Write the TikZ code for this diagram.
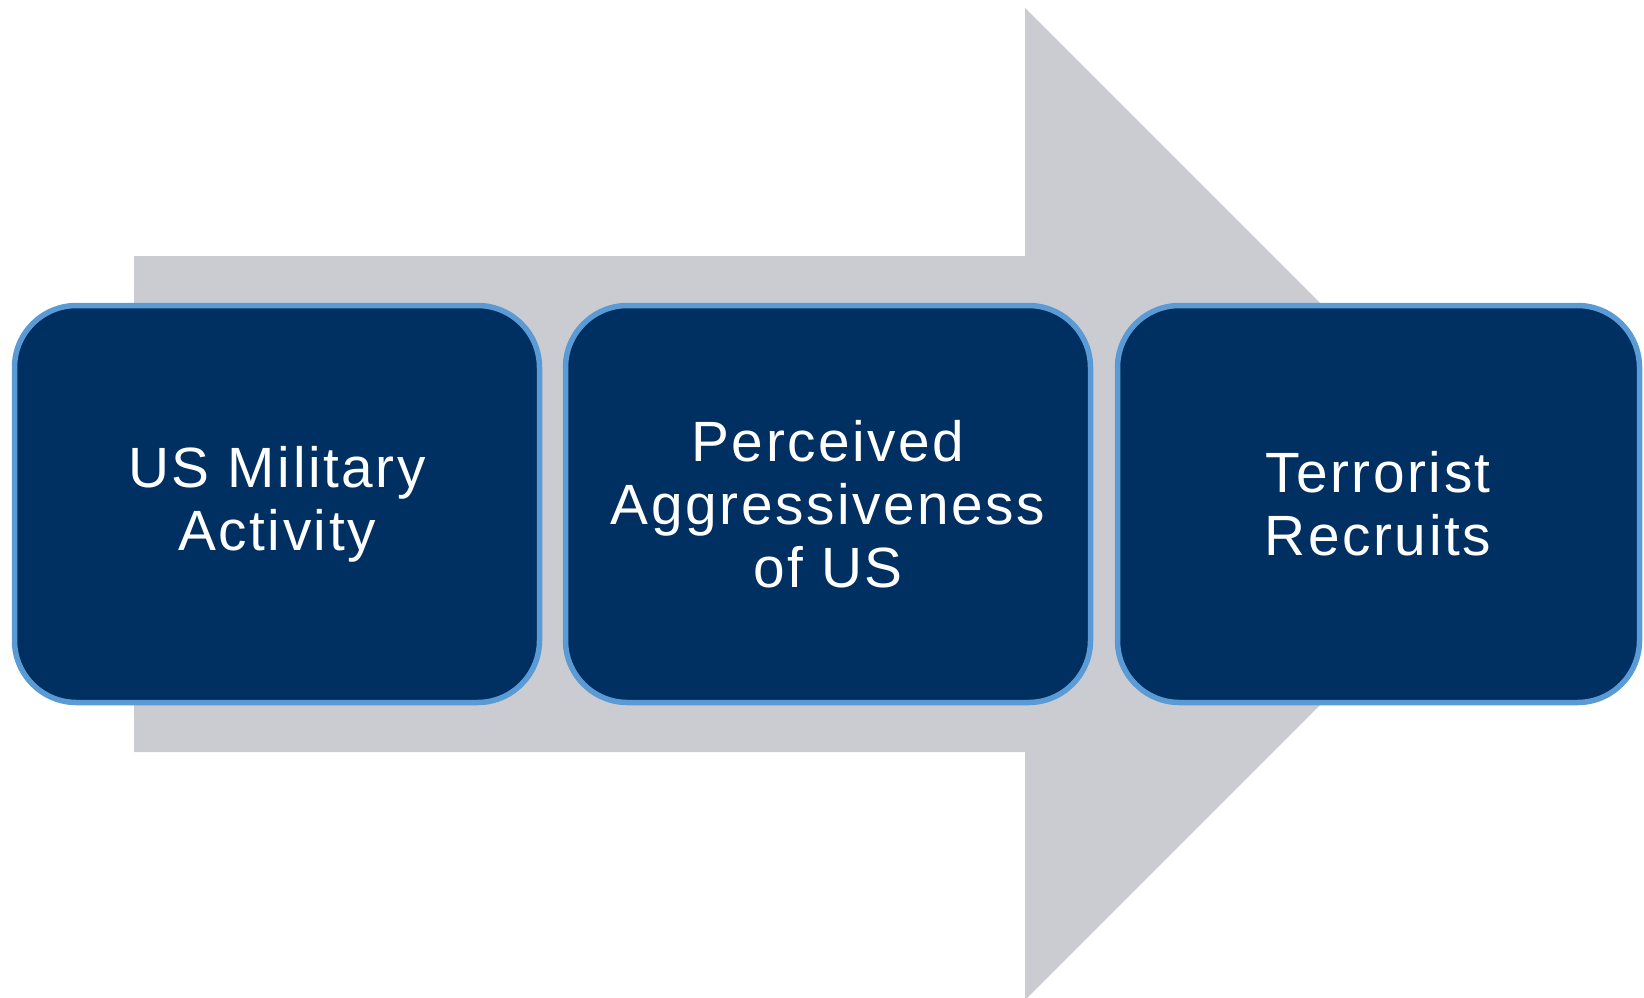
\documentclass[tikz,border=0pt]{standalone}
\usepackage{fontspec}
\setmainfont{Liberation Sans}[LetterSpace=4.5]
\definecolor{arrowgray}{RGB}{203,204,209}
\definecolor{boxnavy}{RGB}{0,47,98}
\definecolor{boxedge}{RGB}{91,155,213}
\begin{document}
\begin{tikzpicture}[x=1bp,y=-1bp,
  stagebox/.style={draw=boxedge,line width=5.5bp,fill=boxnavy,rounded corners=62bp},
  stagetext/.style={text=white,align=center,font=\fontsize{57}{63}\selectfont}]
  \useasboundingbox (0,0) rectangle (1644,997);
  % broad background arrow
  \fill[arrowgray] (134,256) -- (1025,256) -- (1025,8) -- (1521,504)
    -- (1025,1000) -- (1025,752) -- (134,752) -- cycle;
  % three stages
  \draw[stagebox] (14.5,305.5) rectangle (539.5,702.5);
  \draw[stagebox] (565.5,305.5) rectangle (1090.5,702.5);
  \draw[stagebox] (1117.5,305.5) rectangle (1639.5,702.5);
  \node[stagetext] (s1) at (277,504) {US Military\\Activity};
  \node[stagetext] (s2) at (828,504) {Perceived\\Aggressiveness\\of US};
  \node[stagetext] (s3) at (1378,504) {Terrorist\\Recruits};
\end{tikzpicture}
\end{document}
